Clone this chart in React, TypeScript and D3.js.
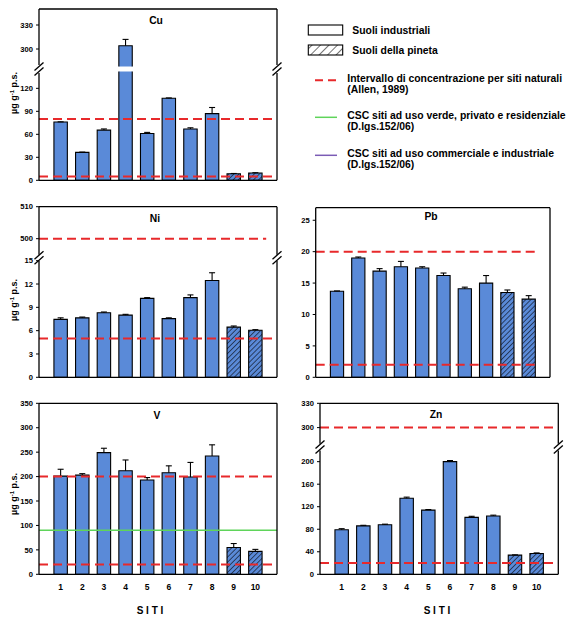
import React from 'react';
import * as d3 from 'd3';

// ---------- DATA ----------
const sites = [1, 2, 3, 4, 5, 6, 7, 8, 9, 10];
const pinetaSites = [9, 10];

const cuValues = [76, 36.5, 65.5, 304, 61, 107, 67, 87, 8.5, 9.5];
const cuErrors = [0.3, 0.3, 1.5, 8, 1.5, 0.5, 1.5, 8, 0.4, 0.4];
const niValues = [7.45, 7.65, 8.3, 8.0, 10.15, 7.55, 10.25, 12.45, 6.45, 6.05];
const niErrors = [0.2, 0.1, 0.1, 0.1, 0.1, 0.1, 0.35, 1.0, 0.15, 0.08];
const pbValues = [13.7, 19.0, 16.9, 17.6, 17.4, 16.2, 14.1, 15.0, 13.5, 12.45];
const pbErrors = [0.05, 0.15, 0.4, 0.85, 0.2, 0.4, 0.25, 1.2, 0.4, 0.55];
const vValues = [201, 203, 249, 212, 193, 208, 199, 242, 55, 47];
const vErrors = [14, 3, 9, 22, 5, 14, 30, 23, 8, 4];
const znValues = [79, 86, 88, 135, 114, 200, 101, 103.5, 34, 37];
const znErrors = [2, 1, 1, 2, 1, 2, 2, 1.5, 0.5, 1];

const cuTicksLower = [0, 30, 60, 90, 120];
const cuTicksUpper = [300, 330];
const niTicksLower = [0, 3, 6, 9, 12, 15];
const niTicksUpper = [500, 510];
const pbTicks = [0, 5, 10, 15, 20, 25];
const vTicks = [0, 50, 100, 150, 200, 250, 300, 350];
const znTicksLower = [0, 40, 80, 120, 160, 200];
const znTicksUpper = [300, 330];

const cuNatural = [5, 80];
const niNatural = [5, 500];
const pbNatural = [2, 20];
const vNatural = [20, 200];
const vResidential = [90];
const znNatural = [20, 300];

const legendBoxes = ['Suoli industriali', 'Suoli della pineta'];
const legendLines = [
  ['Intervallo di concentrazione per siti naturali', '(Allen, 1989)'],
  ['CSC siti ad uso verde, privato e residenziale', '(D.lgs.152/06)'],
  ['CSC siti ad uso commerciale e industriale', '(D.lgs.152/06)'],
];
const xAxisTitle = 'S I T I';

// ---------- STYLE ----------
const FONT = "'Liberation Sans', Arial, Helvetica, sans-serif";
const BLUE = '#5a8ad8';
const RED = '#e8292b';
const GREEN = '#5fd45a';
const PURPLE = '#7b5cb5';

type Seg = { domain: [number, number]; px: [number, number]; ticks: number[] };
type RefLine = { value: number; color: string; dashed: boolean; xEnd: number };
type PanelSpec = {
  title: string;
  values: number[];
  errors: number[];
  left: number;
  right: number;
  segs: Seg[]; // first = lower
  lines: RefLine[];
  titlePos: [number, number];
  yLabel?: [number, number];
  xLabels?: boolean;
  xTitleX?: number;
};

function Panel({ p }: { p: PanelSpec }) {
  const x = d3.scaleLinear().domain([0, 11]).range([p.left, p.right]);
  const bw = x(0.62) - x(0);
  const scales = p.segs.map((s) => d3.scaleLinear().domain(s.domain).range(s.px));
  const top = p.segs[p.segs.length - 1].px[1];
  const bottom = p.segs[0].px[0];
  const segOf = (v: number) => {
    for (let i = p.segs.length - 1; i >= 0; i--) {
      if (v >= p.segs[i].domain[0]) return i;
    }
    return 0;
  };
  const elems: React.ReactNode[] = [];

  // bars
  sites.forEach((site, i) => {
    const v = p.values[i];
    const fill = pinetaSites.includes(site) ? 'url(#hatchBlue)' : BLUE;
    p.segs.forEach((s, si) => {
      if (v <= s.domain[0]) return;
      const sc = scales[si];
      const cutBottom = si > 0;
      const cutTop = v > s.domain[1];
      const y0 = sc(s.domain[0]) + (cutBottom ? 1.5 : 0);
      const y1 = cutTop ? sc(s.domain[1]) - 1.5 : sc(v);
      const xl = x(site) - bw / 2;
      const xr = x(site) + bw / 2;
      const path = d3.path();
      if (cutBottom) path.moveTo(xl, y0); else { path.moveTo(xr, y0); path.lineTo(xl, y0); }
      path.lineTo(xl, y1);
      if (cutTop) { path.moveTo(xr, y1); } else path.lineTo(xr, y1);
      path.lineTo(xr, y0);
      elems.push(
        <g key={`b${i}-${si}`}>
          <rect x={xl} y={y1} width={bw} height={y0 - y1} fill={fill} />
          <path d={path.toString()} fill="none" stroke="#000" strokeWidth={1.1} />
        </g>
      );
    });
    const e = p.errors[i];
    const si = segOf(v);
    const sc = scales[si];
    const ya = sc(v);
    const yb = sc(v + e);
    elems.push(
      <g key={`e${i}`} stroke="#000" strokeWidth={1.1}>
        <line x1={x(site)} x2={x(site)} y1={ya} y2={yb} />
        <line x1={x(site) - 3} x2={x(site) + 3} y1={yb} y2={yb} />
      </g>
    );
  });

  // reference lines
  p.lines.forEach((l, li) => {
    const si = segOf(l.value);
    const yy = scales[si](l.value);
    elems.push(
      <line key={`l${li}`} x1={x(0)} x2={x(l.xEnd)} y1={yy} y2={yy} stroke={l.color}
        strokeWidth={l.dashed ? 2 : 1.5} strokeDasharray={l.dashed ? '9,5' : undefined} />
    );
  });

  // frame
  const frame: React.ReactNode[] = [];
  frame.push(<line key="ft" x1={p.left} x2={p.right} y1={top} y2={top} />);
  frame.push(<line key="fb" x1={p.left} x2={p.right} y1={bottom} y2={bottom} />);
  p.segs.forEach((s, si) => {
    frame.push(<line key={`fl${si}`} x1={p.left} x2={p.left} y1={s.px[0]} y2={s.px[1]} />);
    frame.push(<line key={`fr${si}`} x1={p.right} x2={p.right} y1={s.px[0]} y2={s.px[1]} />);
  });
  if (p.segs.length > 1) {
    const yb = (p.segs[0].px[1] + p.segs[1].px[0]) / 2;
    [p.left, p.right].forEach((xx, k) => {
      [-2.5, 2.5].forEach((dy, j) => {
        frame.push(
          <line key={`br${k}-${j}`} x1={xx - 4.5} y1={yb + dy + 4} x2={xx + 4.5} y2={yb + dy - 4} />
        );
      });
    });
  }

  // ticks
  const ticks: React.ReactNode[] = [];
  p.segs.forEach((s, si) => {
    s.ticks.forEach((t) => {
      const yy = scales[si](t);
      ticks.push(
        <g key={`t${si}-${t}`}>
          <line x1={p.left - 3} x2={p.left} y1={yy} y2={yy} stroke="#000" strokeWidth={1} />
          <text x={p.left - 6} y={yy} dy="0.35em" textAnchor="end" fontSize={7.6} fontWeight="bold"
            fontFamily={FONT} fill="#000">{t}</text>
        </g>
      );
    });
  });

  return (
    <g>
      {elems}
      <g stroke="#000" strokeWidth={1.3}>{frame}</g>
      {ticks}
      <text x={p.titlePos[0]} y={p.titlePos[1]} dy="0.36em" textAnchor="middle" fontSize={10.3}
        fontWeight="bold" fontFamily={FONT}>{p.title}</text>
      {p.yLabel && (
        <text transform={`translate(${p.yLabel[0]},${p.yLabel[1]}) rotate(-90)`} textAnchor="middle"
          fontSize={9} fontWeight="bold" fontFamily={FONT}>
          µg g<tspan dy="-3.5" fontSize={6}>-1</tspan><tspan dy="3.5"> p.s.</tspan>
        </text>
      )}
      {p.xLabels && (
        <g>
          {sites.map((s) => (
            <text key={`x${s}`} x={x(s)} y={590} textAnchor="middle" fontSize={8.5} fontWeight="bold"
              fontFamily={FONT}>{s}</text>
          ))}
          <text x={p.xTitleX} y={614} textAnchor="middle" fontSize={10} fontWeight="bold"
            fontFamily={FONT}>{xAxisTitle}</text>
        </g>
      )}
    </g>
  );
}

const red = (vals: number[], xEnd = 11): RefLine[] =>
  vals.map((v) => ({ value: v, color: RED, dashed: true, xEnd }));

const panels: PanelSpec[] = [
  {
    title: 'Cu', values: cuValues, errors: cuErrors, left: 39, right: 277,
    segs: [
      { domain: [0, 140], px: [180.3, 73], ticks: cuTicksLower },
      { domain: [280, 350], px: [65, 9], ticks: cuTicksUpper },
    ],
    lines: red(cuNatural), titlePos: [156, 20], yLabel: [17, 93],
  },
  {
    title: 'Ni', values: niValues, errors: niErrors, left: 39, right: 277,
    segs: [
      { domain: [0, 15], px: [377.3, 260.7], ticks: niTicksLower },
      { domain: [495, 510], px: [254.7, 206.7], ticks: niTicksUpper },
    ],
    lines: [...red([niNatural[0]]), ...red([niNatural[1]], 10.5)], titlePos: [155, 218], yLabel: [17, 300],
  },
  {
    title: 'Pb', values: pbValues, errors: pbErrors, left: 315.7, right: 550,
    segs: [{ domain: [0, 27], px: [377.3, 207.7], ticks: pbTicks }],
    lines: red(pbNatural, 10.5), titlePos: [431, 216],
  },
  {
    title: 'V', values: vValues, errors: vErrors, left: 39, right: 277,
    segs: [{ domain: [0, 350], px: [574.3, 403.3], ticks: vTicks }],
    lines: [...red(vNatural), ...vResidential.map((v) => ({ value: v, color: GREEN, dashed: false, xEnd: 11 }))],
    titlePos: [157, 415], yLabel: [17, 494], xLabels: true, xTitleX: 150,
  },
  {
    title: 'Zn', values: znValues, errors: znErrors, left: 320, right: 558.3,
    segs: [
      { domain: [0, 220], px: [574.3, 450.4], ticks: znTicksLower },
      { domain: [280, 330], px: [443.8, 403.3], ticks: znTicksUpper },
    ],
    lines: red(znNatural), titlePos: [436, 414], xLabels: true, xTitleX: 437,
  },
];

function Legend() {
  const boxY = [25, 45];
  const lineY = [80.3, 117.3, 155.3];
  const lineColors = [RED, GREEN, PURPLE];
  return (
    <g fontFamily={FONT} fontWeight="bold" fontSize={10.4}>
      {legendBoxes.map((t, i) => (
        <g key={t}>
          <rect x={308.3} y={boxY[i]} width={34.4} height={10} fill={i === 0 ? '#fff' : 'url(#hatchWhite)'}
            stroke="#000" strokeWidth={1.1} />
          <text x={352.3} y={boxY[i] + 8.8}>{t}</text>
        </g>
      ))}
      {legendLines.map((ls, i) => (
        <g key={i}>
          <line x1={315} x2={337} y1={lineY[i]} y2={lineY[i]} stroke={lineColors[i]} strokeWidth={i === 0 ? 2 : 1.5}
            strokeDasharray={i === 0 ? '8,5' : undefined} />
          <text x={347.3} y={lineY[i] + 1.5}>{ls[0]}</text>
          <text x={347.3} y={lineY[i] + 13}>{ls[1]}</text>
        </g>
      ))}
    </g>
  );
}

export default function App() {
  return (
    <svg width={573} height={619} style={{ position: 'absolute', left: 0, top: 0, background: '#fff' }}>
      <defs>
        <pattern id="hatchBlue" width={3.6} height={3.6} patternUnits="userSpaceOnUse" patternTransform="rotate(45)">
          <rect width={3.6} height={3.6} fill={BLUE} />
          <line x1={0} y1={0} x2={0} y2={3.6} stroke="#000" strokeWidth={1.1} />
        </pattern>
        <pattern id="hatchWhite" width={6} height={6} patternUnits="userSpaceOnUse" patternTransform="rotate(45)">
          <rect width={6} height={6} fill="#fff" />
          <line x1={0} y1={0} x2={0} y2={6} stroke="#000" strokeWidth={1.1} />
        </pattern>
      </defs>
      <rect width={573} height={619} fill="#fff" />
      {panels.map((p) => (
        <Panel key={p.title} p={p} />
      ))}
      <Legend />
    </svg>
  );
}
